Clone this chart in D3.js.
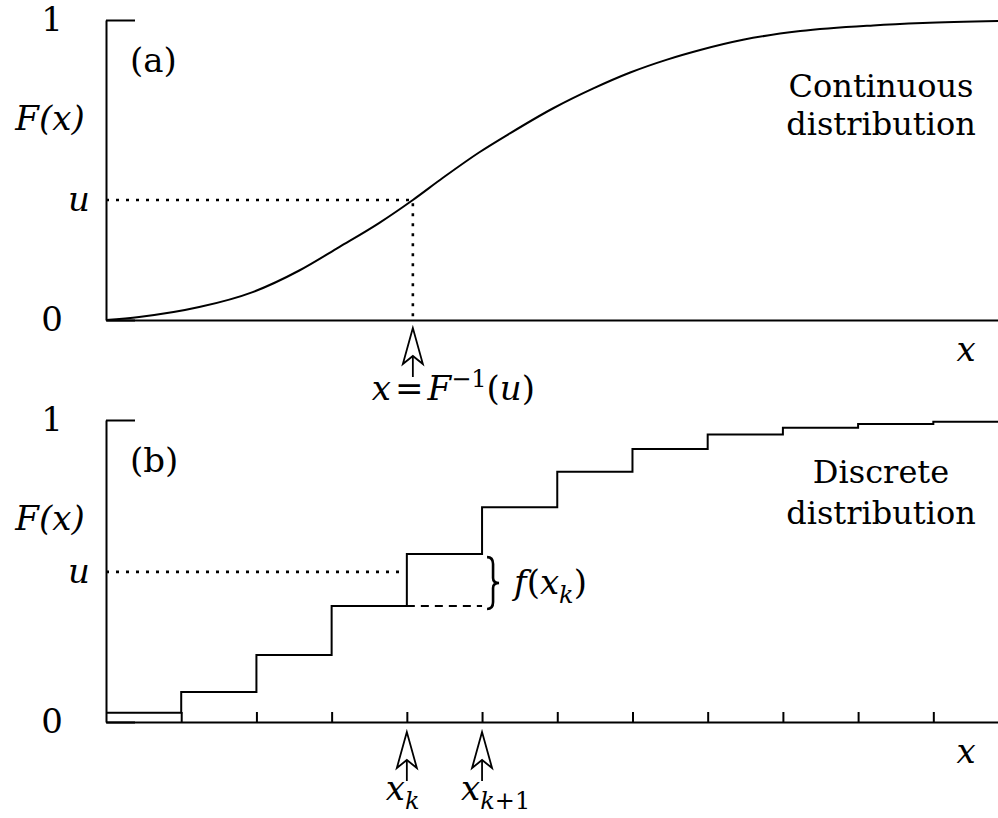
<!DOCTYPE html>
<html>
<head>
<meta charset="utf-8">
<script src="https://cdn.jsdelivr.net/npm/d3@7"></script>
<style>
  body { margin: 0; background: white; }
  svg text { font-family: "DejaVu Serif", serif; fill: black; }
  .it { font-style: italic; }
</style>
</head>
<body>
<div id="chart"></div>
<script>
(function() {
  // panel (a): continuous CDF
  var curveX = [0, 0.44, 1.24, 1.95, 2.57, 3.10, 3.63, 4.08, 4.48, 4.97, 5.37, 5.94, 6.48, 6.97, 7.46, 7.90, 8.47, 9.23, 10.20, 10.86, 11.86];
  var curveF = [0, 0.010, 0.043, 0.093, 0.165, 0.243, 0.323, 0.400, 0.474, 0.560, 0.622, 0.705, 0.772, 0.825, 0.868, 0.900, 0.934, 0.963, 0.982, 0.990, 0.997];

  // panel (b): discrete CDF, one level per interval [k, k+1)
  var stepX = [0, 1, 2, 3, 4, 5, 6, 7, 8, 9, 10, 11];
  var stepF = [0.031, 0.099, 0.222, 0.384, 0.556, 0.711, 0.829, 0.904, 0.952, 0.974, 0.987, 0.994];

  var yTicks = [0, 1];
  var xTicksB = [1, 2, 3, 4, 5, 6, 7, 8, 9, 10, 11];
  var xMax = 11.86;
  var uA = 0.40, xA = 4.08;   // u and F^-1(u) in panel (a)
  var uB = 0.497, k = 4;      // u and x_k in panel (b)

  var margin = { left: 106 },
  width = 892;

  var svg = d3.select("#chart")
    .append("svg")
    .attr("width", 998)
    .attr("height", 818);

  var xPositionScale = d3.scaleLinear().domain([0, xMax]).range([0, width]);

  var panels = [
    { name: "(a)", top: 20, height: 300, label1: "Continuous", label2: "distribution", lab1Y: 77, lab2Y: 115 },
    { name: "(b)", top: 420, height: 302, label1: "Discrete", label2: "distribution", lab1Y: 63, lab2Y: 104 }
  ];

  panels.forEach(function(p, i) {
    var g = svg.append("g")
      .attr("transform", "translate(" + margin.left + "," + p.top + ")");
    var y = d3.scaleLinear().domain([0, 1]).range([p.height, 0]);
    p.g = g; p.y = y;

    // axes
    var yAxis = d3.axisLeft(y).tickValues(yTicks).tickFormat(d3.format("d"))
      .tickSizeInner(-29).tickSizeOuter(0).tickPadding(43);
    var yg = g.append("g").attr("class", "axis y-axis").call(yAxis);
    var xAxis = d3.axisBottom(xPositionScale)
      .tickValues(i == 0 ? [] : xTicksB)
      .tickSizeInner(-10).tickSizeOuter(0).tickFormat("");
    var xg = g.append("g").attr("class", "axis x-axis")
      .attr("transform", "translate(0," + p.height + ")")
      .call(xAxis);
    [yg, xg].forEach(function(a) {
      a.style("color", "black");
      a.selectAll("path, line").attr("stroke-width", 2);
      a.selectAll("text").style("font-size", "34px").style("font-family", "DejaVu Serif");
    });

    g.append("text").text(p.name)
      .attr("x", 24).attr("y", 52)
      .style("font-size", "34px");

    g.append("text")
      .attr("class", "it")
      .attr("x", -56).attr("y", 110)
      .attr("text-anchor", "middle")
      .style("font-size", "34px")
      .text("F(x)");

    g.append("text")
      .attr("class", "it")
      .attr("x", 860).attr("y", p.height + 41)
      .attr("text-anchor", "middle")
      .style("font-size", "34px")
      .text("x");

    g.append("text").text(p.label1)
      .attr("x", 775).attr("y", p.lab1Y)
      .attr("text-anchor", "middle")
      .style("font-size", "32px");
    g.append("text").text(p.label2)
      .attr("x", 775).attr("y", p.lab2Y)
      .attr("text-anchor", "middle")
      .style("font-size", "32px");
  });

  function uLabel(p, u) {
    p.g.append("text")
      .attr("class", "it")
      .attr("x", -27).attr("y", p.y(u) + 11)
      .attr("text-anchor", "middle")
      .style("font-size", "34px")
      .text("u");
  }

  function arrow(g, cx, top) {
    g.append("path")
      .attr("d", "M" + cx + "," + top + "L" + (cx - 10) + "," + (top + 36) +
        "L" + cx + "," + (top + 28) + "L" + (cx + 10) + "," + (top + 36) + "Z")
      .attr("fill", "white")
      .attr("stroke", "black")
      .attr("stroke-width", 1.8)
      .attr("stroke-linejoin", "miter");
    g.append("line")
      .attr("x1", cx).attr("x2", cx)
      .attr("y1", top + 28).attr("y2", top + 49)
      .attr("stroke", "black")
      .attr("stroke-width", 1.8);
  }

  // ---- panel (a)
  var pa = panels[0];
  var line = d3.line()
    .x(function(d, i) { return xPositionScale(curveX[i]); })
    .y(function(d) { return pa.y(d); })
    .curve(d3.curveMonotoneX);

  pa.g.append("path")
    .datum(curveF)
    .attr("d", line)
    .attr("fill", "none")
    .attr("stroke", "black")
    .attr("stroke-width", 2);

  pa.g.append("path")
    .attr("d", "M0," + pa.y(uA) + "H" + xPositionScale(xA) + "V" + pa.y(0))
    .attr("fill", "none")
    .attr("stroke", "black")
    .attr("stroke-width", 2.6)
    .attr("stroke-dasharray", "3,7");

  uLabel(pa, uA);
  arrow(pa.g, xPositionScale(xA), pa.height + 8);

  var inv = pa.g.append("text")
    .attr("class", "it")
    .attr("x", xPositionScale(xA) - 41)
    .attr("y", pa.height + 80)
    .style("font-size", "34px");
  inv.append("tspan").text("x");
  inv.append("tspan").attr("dx", 4).style("font-style", "normal").text("=");
  inv.append("tspan").attr("dx", 4).text("F");
  inv.append("tspan").attr("dy", -13).style("font-size", "24px").style("font-style", "normal").text("−1");
  inv.append("tspan").attr("dy", 13).style("font-style", "normal").text("(");
  inv.append("tspan").text("u");
  inv.append("tspan").style("font-style", "normal").text(")");

  // ---- panel (b)
  var pb = panels[1];
  var stepData = stepX.map(function(x, i) { return [x, stepF[i]]; });
  stepData.push([xMax, stepF[stepF.length - 1]]);

  var stepLine = d3.line()
    .x(function(d) { return xPositionScale(d[0]); })
    .y(function(d) { return pb.y(d[1]); })
    .curve(d3.curveStepAfter);

  pb.g.append("path")
    .datum(stepData)
    .attr("d", stepLine)
    .attr("fill", "none")
    .attr("stroke", "black")
    .attr("stroke-width", 2);

  pb.g.append("line")
    .attr("x1", 0).attr("x2", xPositionScale(k))
    .attr("y1", pb.y(uB)).attr("y2", pb.y(uB))
    .attr("stroke", "black")
    .attr("stroke-width", 2.6)
    .attr("stroke-dasharray", "3,7");

  pb.g.append("line")
    .attr("x1", xPositionScale(k)).attr("x2", xPositionScale(k + 1))
    .attr("y1", pb.y(stepF[k - 1])).attr("y2", pb.y(stepF[k - 1]))
    .attr("stroke", "black")
    .attr("stroke-width", 2)
    .attr("stroke-dasharray", "8,6");

  uLabel(pb, uB);

  // brace for the jump f(x_k)
  var bx = xPositionScale(k + 1) + 5,
  by0 = pb.y(stepF[k]) + 3,
  by1 = pb.y(stepF[k - 1]) + 3,
  bm = (by0 + by1) / 2,
  bw = 12;
  pb.g.append("path")
    .attr("d", "M" + bx + "," + by0 +
      "Q" + (bx + bw / 2) + "," + by0 + " " + (bx + bw / 2) + "," + (by0 + 7) +
      "L" + (bx + bw / 2) + "," + (bm - 5) +
      "Q" + (bx + bw / 2) + "," + bm + " " + (bx + bw) + "," + bm +
      "Q" + (bx + bw / 2) + "," + bm + " " + (bx + bw / 2) + "," + (bm + 5) +
      "L" + (bx + bw / 2) + "," + (by1 - 7) +
      "Q" + (bx + bw / 2) + "," + by1 + " " + bx + "," + by1)
    .attr("fill", "none")
    .attr("stroke", "black")
    .attr("stroke-width", 2.6);

  var fk = pb.g.append("text")
    .attr("class", "it")
    .attr("x", xPositionScale(k + 1) + 32)
    .attr("y", pb.y(stepF[k - 1]) - 12)
    .style("font-size", "34px");
  fk.append("tspan").text("f");
  fk.append("tspan").style("font-style", "normal").text("(");
  fk.append("tspan").text("x");
  fk.append("tspan").attr("dy", 9).style("font-size", "24px").text("k");
  fk.append("tspan").attr("dy", -9).style("font-style", "normal").text(")");

  [k, k + 1].forEach(function(xk, j) {
    arrow(pb.g, xPositionScale(xk), pb.height + 10);
    var t = pb.g.append("text")
      .attr("class", "it")
      .attr("x", xPositionScale(xk) - 21)
      .attr("y", pb.height + 78)
      .style("font-size", "34px");
    t.append("tspan").text("x");
    t.append("tspan").attr("dy", 9).style("font-size", "24px").text("k");
    if (j == 1) {
      t.append("tspan").style("font-size", "24px").style("font-style", "normal").text("+1");
    }
  });
})();
</script>
</body>
</html>
